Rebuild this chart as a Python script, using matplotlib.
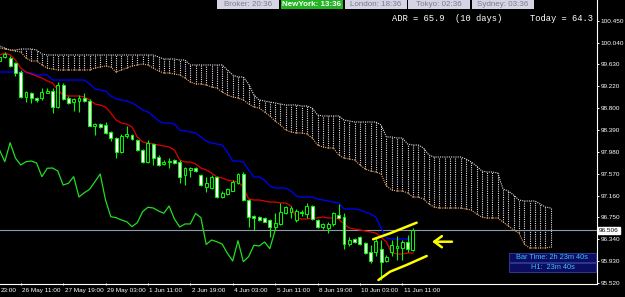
import matplotlib
matplotlib.use('Agg')
import matplotlib.pyplot as plt
import matplotlib.transforms as mtransforms
from matplotlib.patches import Rectangle
import numpy as np

# H4 candles (bar 0 = left edge, bar 78 = current bar)
opens = [99.692, 99.767, 99.743, 99.649, 99.491, 99.020, 99.095, 99.001, 98.990, 99.095,
         99.127, 98.832, 99.240, 99.001, 98.926, 98.939, 98.990, 98.939, 98.478, 98.501,
         98.487, 98.350, 98.237, 97.985, 98.280, 98.299, 98.205, 98.017, 97.797, 98.130,
         97.891, 97.754, 97.786, 97.829, 97.797, 97.546, 97.641, 97.678, 97.546, 97.326,
         97.296, 97.509, 97.133, 97.183, 97.251, 97.396, 97.565, 97.076, 96.775, 96.762,
         96.732, 96.700, 96.562, 96.625, 96.826, 96.850, 96.700, 96.856, 96.813, 96.963,
         96.700, 96.562, 96.540, 96.615, 96.794, 96.756, 96.239, 96.337, 96.374, 96.261,
         96.103, 96.103, 96.148, 95.928, 96.103, 96.179, 96.179, 96.291, 96.135]
highs = [99.805, 99.861, 99.786, 99.673, 99.523, 99.127, 99.114, 99.014, 99.184, 99.184,
         99.184, 99.302, 99.278, 99.033, 98.996, 99.052, 99.095, 98.977, 98.525, 98.516,
         98.544, 98.375, 98.262, 98.318, 98.469, 98.318, 98.224, 98.036, 98.205, 98.149,
         97.923, 97.829, 97.866, 97.848, 97.829, 97.697, 97.703, 97.697, 97.565, 97.515,
         97.546, 97.528, 97.245, 97.302, 97.452, 97.590, 97.603, 97.095, 96.794, 96.775,
         96.756, 96.719, 96.832, 97.020, 96.963, 96.963, 96.907, 96.888, 97.020, 96.982,
         96.719, 96.643, 96.662, 96.856, 97.001, 96.832, 96.380, 96.361, 96.399, 96.286,
         96.229, 96.385, 96.323, 96.041, 96.323, 96.399, 96.323, 96.417, 96.549]
lows = [99.654, 99.748, 99.579, 99.410, 98.996, 98.926, 98.902, 98.920, 98.958, 99.090,
        98.713, 98.807, 98.958, 98.883, 98.751, 98.738, 98.926, 98.469, 98.299, 98.440,
        98.318, 98.186, 97.866, 97.961, 98.243, 98.205, 97.998, 97.772, 97.772, 97.735,
        97.716, 97.735, 97.678, 97.754, 97.396, 97.358, 97.515, 97.603, 97.339, 97.227,
        97.283, 97.114, 97.114, 97.170, 97.245, 97.377, 97.057, 96.568, 96.511, 96.681,
        96.662, 96.385, 96.511, 96.606, 96.813, 96.737, 96.662, 96.775, 96.737, 96.700,
        96.549, 96.530, 96.455, 96.587, 96.737, 96.154, 96.210, 96.267, 96.229, 96.060,
        95.891, 96.022, 95.571, 95.909, 96.022, 95.947, 95.947, 96.103, 96.116]
closes = [99.767, 99.824, 99.598, 99.460, 99.020, 99.103, 98.990, 98.958, 99.114, 99.127,
          98.832, 99.240, 98.971, 98.907, 98.971, 99.001, 98.939, 98.474, 98.506, 98.455,
          98.343, 98.237, 97.985, 98.280, 98.318, 98.218, 98.017, 97.797, 98.154, 97.866,
          97.735, 97.797, 97.810, 97.772, 97.515, 97.673, 97.678, 97.622, 97.358, 97.390,
          97.515, 97.133, 97.213, 97.277, 97.420, 97.565, 97.076, 96.762, 96.743, 96.700,
          96.668, 96.574, 96.649, 96.856, 96.939, 96.926, 96.869, 96.826, 96.963, 96.719,
          96.568, 96.625, 96.625, 96.822, 96.743, 96.239, 96.323, 96.291, 96.248, 96.073,
          95.928, 96.310, 95.915, 96.009, 96.224, 96.211, 96.286, 96.160, 96.506]

# Ichimoku lines
tenkan = [99.805, 99.843, 99.805, 99.711, 99.560, 99.485, 99.447, 99.410, 99.372, 99.316,
          99.278, 99.146, 99.052, 99.033, 99.033, 99.033, 99.014, 98.958, 98.883, 98.864,
          98.826, 98.713, 98.582, 98.525, 98.506, 98.450, 98.262, 98.168, 98.149, 98.130,
          98.111, 98.092, 98.073, 98.017, 97.829, 97.791, 97.791, 97.754, 97.678, 97.641,
          97.584, 97.509, 97.490, 97.452, 97.434, 97.415, 97.321, 97.095, 97.076, 97.076,
          97.057, 97.038, 97.038, 97.020, 97.020, 96.963, 96.737, 96.718, 96.718, 96.737,
          96.737, 96.756, 96.737, 96.737, 96.718, 96.624, 96.549, 96.530, 96.511, 96.493,
          96.474, 96.455, 96.380, 96.286, 96.079, 96.060, 96.060, 96.079, 96.079]
kijun = [99.485, 99.485, 99.485, 99.485, 99.485, 99.485, 99.466, 99.429, 99.429, 99.429,
         99.334, 99.334, 99.334, 99.334, 99.334, 99.334, 99.334, 99.259, 99.165, 99.146,
         99.127, 99.033, 98.977, 98.958, 98.939, 98.902, 98.845, 98.770, 98.732, 98.657,
         98.563, 98.525, 98.525, 98.506, 98.393, 98.375, 98.356, 98.337, 98.262, 98.186,
         98.149, 98.130, 98.111, 97.979, 97.810, 97.810, 97.791, 97.641, 97.509, 97.509,
         97.452, 97.339, 97.302, 97.302, 97.302, 97.245, 97.151, 97.132, 97.132, 97.132,
         97.095, 97.076, 97.057, 97.038, 97.020, 96.907, 96.907, 96.907, 96.888, 96.850,
         96.813, 96.756, 96.549, 96.361, 96.342, 96.342, 96.342, 96.342, 96.342]
span_a = [99.937, 99.918, 99.899, 99.880, 99.861, 99.748, 99.692, 99.692, 99.617, 99.560,
          99.541, 99.523, 99.523, 99.523, 99.523, 99.523, 99.523, 99.523, 99.560, 99.579,
          99.598, 99.579, 99.485, 99.523, 99.560, 99.598, 99.617, 99.636, 99.617, 99.560,
          99.504, 99.466, 99.466, 99.447, 99.429, 99.372, 99.297, 99.259, 99.259, 99.240,
          99.203, 99.184, 99.109, 99.052, 99.014, 98.996, 98.958, 98.883, 98.826, 98.807,
          98.732, 98.657, 98.563, 98.488, 98.393, 98.356, 98.337, 98.337, 98.318, 98.243,
          98.111, 98.073, 98.055, 98.055, 97.923, 97.866, 97.848, 97.829, 97.735, 97.659,
          97.622, 97.603, 97.565, 97.340, 97.264, 97.245, 97.245, 97.208, 97.132, 97.132,
          97.095, 97.001, 96.944, 96.925, 96.925, 96.925, 96.925, 96.925, 96.907, 96.888,
          96.813, 96.756, 96.737, 96.737, 96.737, 96.662, 96.587, 96.511, 96.455, 96.248,
          96.173, 96.173, 96.173, 96.173, 96.192]
span_b = [99.974, 99.937, 99.899, 99.899, 99.918, 99.918, 99.918, 99.899, 99.824, 99.805,
          99.805, 99.805, 99.805, 99.805, 99.805, 99.805, 99.805, 99.805, 99.805, 99.805,
          99.805, 99.805, 99.805, 99.805, 99.805, 99.805, 99.805, 99.805, 99.805, 99.805,
          99.767, 99.730, 99.730, 99.730, 99.711, 99.711, 99.617, 99.617, 99.617, 99.617,
          99.617, 99.617, 99.617, 99.523, 99.429, 99.391, 99.391, 99.259, 99.052, 98.958,
          98.939, 98.920, 98.902, 98.883, 98.864, 98.864, 98.864, 98.845, 98.845, 98.807,
          98.676, 98.657, 98.657, 98.657, 98.657, 98.582, 98.563, 98.544, 98.544, 98.544,
          98.544, 98.544, 98.488, 98.262, 98.262, 98.243, 98.243, 98.130, 98.111, 98.111,
          98.055, 97.923, 97.885, 97.885, 97.885, 97.885, 97.885, 97.885, 97.848, 97.791,
          97.716, 97.622, 97.603, 97.603, 97.584, 97.283, 97.245, 97.170, 97.076, 97.057,
          97.057, 97.057, 97.001, 96.944, 96.925]
chikou_shift = 26

price_ticks = [100.450, 100.040, 99.630, 99.220, 98.800, 98.390, 97.980, 97.570,
               97.160, 96.750, 96.340, 95.930, 95.520]
time_bars = [4, 12, 20, 28, 36, 44, 52, 60, 68, 76]
time_labels = ['26 May 11:00', '27 May 19:00', '29 May 03:00', '1 Jun 11:00',
               '2 Jun 19:00', '4 Jun 03:00', '5 Jun 11:00', '8 Jun 19:00', '10 Jun 03:00',
               '11 Jun 11:00']
first_label = '23:00'   # tail of the label cut by the left edge
bid = 96.506

# hand-drawn yellow marks (bar, price)
upper_mark = ([70.5, 73.7, 78.7], [96.337, 96.449, 96.649])
lower_mark = ([71.5, 73.7, 76.8, 80.6], [95.570, 95.727, 95.853, 96.022])
arrow_from = (85.9, 96.291)
arrow_to = (81.1, 96.291)

sessions = [('Broker: 20:36', False), ('NewYork: 13:36', True), ('London: 18:36', False),
            ('Tokyo: 02:36', False), ('Sydney: 03:36', False)]

# ---------------------------------------------------------------
W, H = 625, 297
fig = plt.figure(figsize=(W / 100, H / 100), dpi=100, facecolor='black')
ax = fig.add_axes([0, 13 / H, 597 / W, 284 / H], facecolor='black')

n = len(closes)
x = np.arange(n)
o = np.array(opens); c = np.array(closes)
hi = np.array(highs); lo = np.array(lows)
xc = np.arange(len(span_a))

# cloud
ax.vlines(xc, span_a, span_b, colors='#e6dce6', linewidth=0.8,
          linestyles=[(0, (1, 1))], zorder=1)
ax.plot(xc, span_b, color='#e6dce6', lw=0.8, ls=(0, (1, 1)), zorder=1)
ax.plot(xc, span_a, color='#f4a460', lw=0.8, ls=(0, (1, 1)), zorder=1)

# bid line
ax.axhline(bid, color='#8e9aa8', lw=0.8, zorder=2)

# lines
ax.plot(x, kijun, color='#0000ff', lw=0.9, zorder=3)
ax.plot(x, tenkan, color='#e00000', lw=0.9, zorder=3)
ax.plot(x[:n - chikou_shift], c[chikou_shift:], color='#22dd22', lw=0.9, zorder=3)

# candles
ax.vlines(x, lo, hi, colors='#00ff00', linewidth=0.8, zorder=4)
bull = c >= o
body_lo = np.minimum(o, c)
body_h = np.maximum(np.abs(c - o), 0.012)
ax.bar(x[bull], body_h[bull], bottom=body_lo[bull], width=0.55, color='black',
       edgecolor='#00ff00', linewidth=0.7, zorder=5)
ax.bar(x[~bull], body_h[~bull], bottom=body_lo[~bull], width=0.55, color='white',
       edgecolor='#00ff00', linewidth=0.7, zorder=5)

# yellow marks
ax.plot(*upper_mark, color='yellow', lw=1.8, solid_capstyle='round', zorder=6)
ax.plot(*lower_mark, color='yellow', lw=1.8, solid_capstyle='round', zorder=6)
ax.annotate('', xy=arrow_to, xytext=arrow_from, zorder=6,
            arrowprops=dict(arrowstyle='->,head_length=0.55,head_width=0.4',
                            color='yellow', lw=1.8))

ax.set_xlim(0.5 / 5.3, 597.5 / 5.3)
ax.set_ylim(95.495, 100.84)

for s in ['left', 'top']:
    ax.spines[s].set_visible(False)
for s in ['right', 'bottom']:
    ax.spines[s].set_color('white')
    ax.spines[s].set_linewidth(0.8)

ax.yaxis.tick_right()
ax.set_yticks(price_ticks)
ax.set_yticklabels(['%.3f' % p for p in price_ticks])
ax.tick_params(axis='y', colors='white', labelsize=4.6, length=1.5, width=0.7, pad=1)
for t in ax.get_yticklabels():
    t.set_fontfamily('Liberation Sans')

ax.set_xticks(time_bars)
ax.set_xticklabels([])
ax.tick_params(axis='x', colors='white', length=2, width=0.7, direction='inout')
trans = mtransforms.blended_transform_factory(ax.transData, ax.transAxes)
for b, lab in zip(time_bars, time_labels):
    ax.text(b + 0.3, -0.022, lab, transform=trans, ha='left', va='center', color='white',
            fontsize=4.6, family='Liberation Sans', clip_on=False)
ax.text(0.002, -0.022, first_label, transform=ax.transAxes, ha='left', va='center',
        color='white', fontsize=4.6, family='Liberation Sans', clip_on=False)

# bid label on price axis
ytrans = mtransforms.blended_transform_factory(ax.transAxes, ax.transData)
ax.text(1.003, bid, '%.3f' % bid, transform=ytrans, ha='left', va='center',
        color='black', fontsize=4.6, family='Liberation Sans', clip_on=False,
        bbox=dict(facecolor='white', edgecolor='white', pad=0.8), zorder=10)

# session clocks
box_x = [217, 281, 345, 408, 472]
for (txt, active), bx in zip(sessions, box_x):
    fc = '#22b422' if active else '#d4d4e4'
    tc = 'white' if active else '#7c7c90'
    fig.add_artist(Rectangle((bx / W, 1 - 8.5 / H), 62 / W, 8.5 / H,
                             transform=fig.transFigure, facecolor=fc, edgecolor='none'))
    fig.text((bx + 31) / W, 1 - 4.3 / H, txt, ha='center', va='center', color=tc,
             fontsize=5.8, family='Liberation Sans',
             fontweight='bold' if active else 'normal')

# ADR text
fig.text(392.5 / W, 1 - 18.5 / H, 'ADR = 65.9  (10 days)', ha='left', va='center',
         color='white', fontsize=6.3, family='Liberation Mono')
fig.text(530.5 / W, 1 - 18.5 / H, 'Today = 64.3', ha='left', va='center',
         color='white', fontsize=6.3, family='Liberation Mono')

# bar timer
for txt, top in [('Bar Time: 2h 23m 40s', 253), ('H1:  23m 40s', 263)]:
    fig.add_artist(Rectangle((509 / W, 1 - (top + 9) / H), 87 / W, 9 / H,
                             transform=fig.transFigure, facecolor='#0c0c60',
                             edgecolor='#3040a0', linewidth=0.6))
    fig.text(552.5 / W, 1 - (top + 4.5) / H, txt, ha='center', va='center',
             color='#3cc0ff', fontsize=5.3, family='Liberation Sans')

fig.savefig('out.png', dpi=100, facecolor='black')
